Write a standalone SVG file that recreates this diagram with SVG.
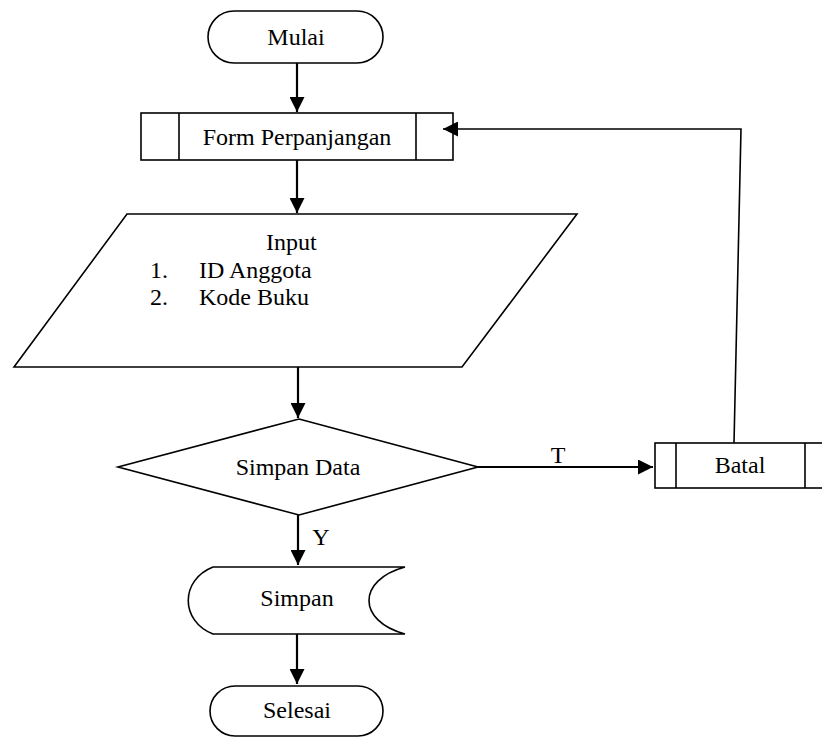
<svg xmlns="http://www.w3.org/2000/svg" width="822" height="738" viewBox="0 0 822 738">
<style>
.s{fill:#fff;stroke:#000;stroke-width:1.6}
.l{fill:none;stroke:#000;stroke-width:1.6}
.c{fill:none;stroke:#000;stroke-width:2.2}
text{font-size:24px;fill:#000}
.m{text-anchor:middle}
</style>
<defs>
<marker id="ah" markerUnits="userSpaceOnUse" markerWidth="15" markerHeight="15" refX="15" refY="7.5" orient="auto">
<path d="M0,0 L15,7.5 L0,15 Z" fill="#000"/>
</marker>
</defs>
<rect width="822" height="738" fill="#fff"/>
<g font-family="Liberation Serif, serif">
<g id="mulai">
<rect class="s" x="208" y="11" width="175" height="52" rx="26" ry="26"/>
<text class="m" x="296" y="45">Mulai</text>
</g>
<g id="form">
<rect class="s" x="141" y="113" width="312" height="47"/>
<line class="l" x1="179" y1="113" x2="179" y2="160"/>
<line class="l" x1="416" y1="113" x2="416" y2="160"/>
<text class="m" x="297" y="145">Form Perpanjangan</text>
</g>
<g id="input">
<polygon class="s" points="127,214 577,214 462,367 14,367"/>
<text x="266" y="250">Input</text>
<text x="150" y="278">1.</text>
<text x="199" y="278">ID Anggota</text>
<text x="150" y="305">2.</text>
<text x="199" y="305">Kode Buku</text>
</g>
<g id="simpan-data">
<polygon class="s" points="299,419 478,467 299,515 118,467"/>
<text class="m" x="298" y="475">Simpan Data</text>
</g>
<g id="batal">
<rect class="s" x="655" y="443" width="175" height="45"/>
<line class="l" x1="676" y1="443" x2="676" y2="488"/>
<line class="l" x1="805" y1="443" x2="805" y2="488"/>
<text class="m" x="740" y="473">Batal</text>
</g>
<g id="simpan">
<path class="s" d="M213,567 L405,567 C357,580 357,621 405,634 L213,634 C180,621 180,580 213,567 Z"/>
<text class="m" x="297" y="606">Simpan</text>
</g>
<g id="selesai">
<rect class="s" x="210" y="686" width="173" height="50" rx="25" ry="25"/>
<text class="m" x="297" y="718">Selesai</text>
</g>
<g id="connectors">
<line class="c" x1="297" y1="63" x2="297" y2="112" marker-end="url(#ah)"/>
<line class="c" x1="297" y1="160" x2="297" y2="213" marker-end="url(#ah)"/>
<line class="c" x1="298" y1="367" x2="298" y2="418" marker-end="url(#ah)"/>
<line class="c" x1="478" y1="467" x2="653" y2="467" marker-end="url(#ah)"/>
<line class="c" x1="298" y1="515" x2="298" y2="565" marker-end="url(#ah)"/>
<line class="c" x1="297" y1="634" x2="297" y2="684" marker-end="url(#ah)"/>
<polyline class="l" points="734,443 741,129 443,129" marker-end="url(#ah)"/>
<text class="m" x="558" y="463">T</text>
<text class="m" x="321" y="545">Y</text>
</g>
</g>
</svg>
